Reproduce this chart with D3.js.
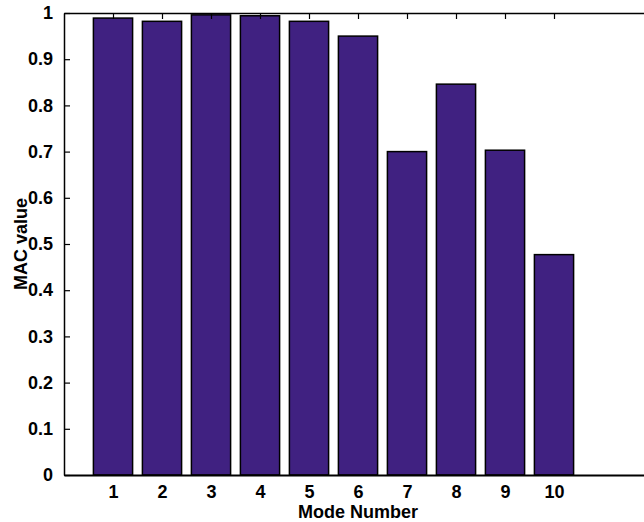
<!DOCTYPE html>
<html>
<head>
<meta charset="utf-8">
<script src="https://cdn.jsdelivr.net/npm/d3@7"></script>
<style>
  html, body { margin: 0; padding: 0; background: #fff; }
  svg text { font-family: "Liberation Sans", Arial, Helvetica, sans-serif; font-weight: bold; fill: #000; }
</style>
</head>
<body>
<svg id="chart" width="644" height="522"></svg>
<script>
// MAC value per mode
const modes = [1, 2, 3, 4, 5, 6, 7, 8, 9, 10];
const macValues = [0.989, 0.982, 0.996, 0.994, 0.982, 0.950, 0.700, 0.846, 0.703, 0.477];
const yTicks = [0, 0.1, 0.2, 0.3, 0.4, 0.5, 0.6, 0.7, 0.8, 0.9, 1];
const xTicks = [1, 2, 3, 4, 5, 6, 7, 8, 9, 10];

const svg = d3.select("#chart");
const plotLeft = 64, plotTop = 13, plotBottom = 475;
const unit = 49;

const x = d3.scaleLinear().domain([0, 12]).range([plotLeft, plotLeft + 12 * unit]);
const y = d3.scaleLinear().domain([0, 1]).range([plotBottom, plotTop]);
const barW = 0.8;

// bars
svg.append("g").selectAll("rect")
  .data(modes.map((m, i) => ({ m, v: macValues[i] })))
  .join("rect")
  .attr("x", d => x(d.m - barW / 2))
  .attr("width", d => x(d.m + barW / 2) - x(d.m - barW / 2))
  .attr("y", d => y(d.v))
  .attr("height", d => y(0) - y(d.v))
  .attr("fill", "#402181")
  .attr("stroke", "#000")
  .attr("stroke-width", 1.5);

// left axis (ticks point inward)
const yAxis = d3.axisLeft(y).tickValues(yTicks).tickSizeInner(-6).tickSizeOuter(0)
  .tickPadding(11).tickFormat(d => d3.format("")(+d.toFixed(1)));
const gy = svg.append("g").attr("transform", `translate(${plotLeft},0)`).call(yAxis);
gy.select(".domain").attr("stroke-width", 1.5);
gy.selectAll(".tick line").attr("stroke-width", 1.2);
gy.selectAll("text").style("font-size", "18px");

// bottom axis
const xAxis = d3.axisBottom(x).tickValues(xTicks).tickSize(0).tickPadding(10).tickFormat(d3.format("d"));
const gx = svg.append("g").attr("transform", `translate(0,${plotBottom})`).call(xAxis);
gx.select(".domain").attr("stroke-width", 2);
gx.selectAll("text").style("font-size", "18px");

// top axis with mirrored ticks pointing down
const xTop = d3.axisTop(x).tickValues(xTicks).tickSizeInner(-6).tickSizeOuter(0).tickFormat("");
const gt = svg.append("g").attr("transform", `translate(0,${plotTop})`).call(xTop);
gt.select(".domain").attr("stroke-width", 1.5);
gt.selectAll(".tick line").attr("stroke-width", 1.2);

// axis titles
svg.append("text")
  .attr("x", x(6)).attr("y", 518)
  .attr("text-anchor", "middle")
  .style("font-size", "18px")
  .text("Mode Number");

svg.append("text")
  .attr("transform", `translate(27,${(plotTop + plotBottom) / 2}) rotate(-90)`)
  .attr("text-anchor", "middle")
  .style("font-size", "18px")
  .text("MAC value");
</script>
</body>
</html>
